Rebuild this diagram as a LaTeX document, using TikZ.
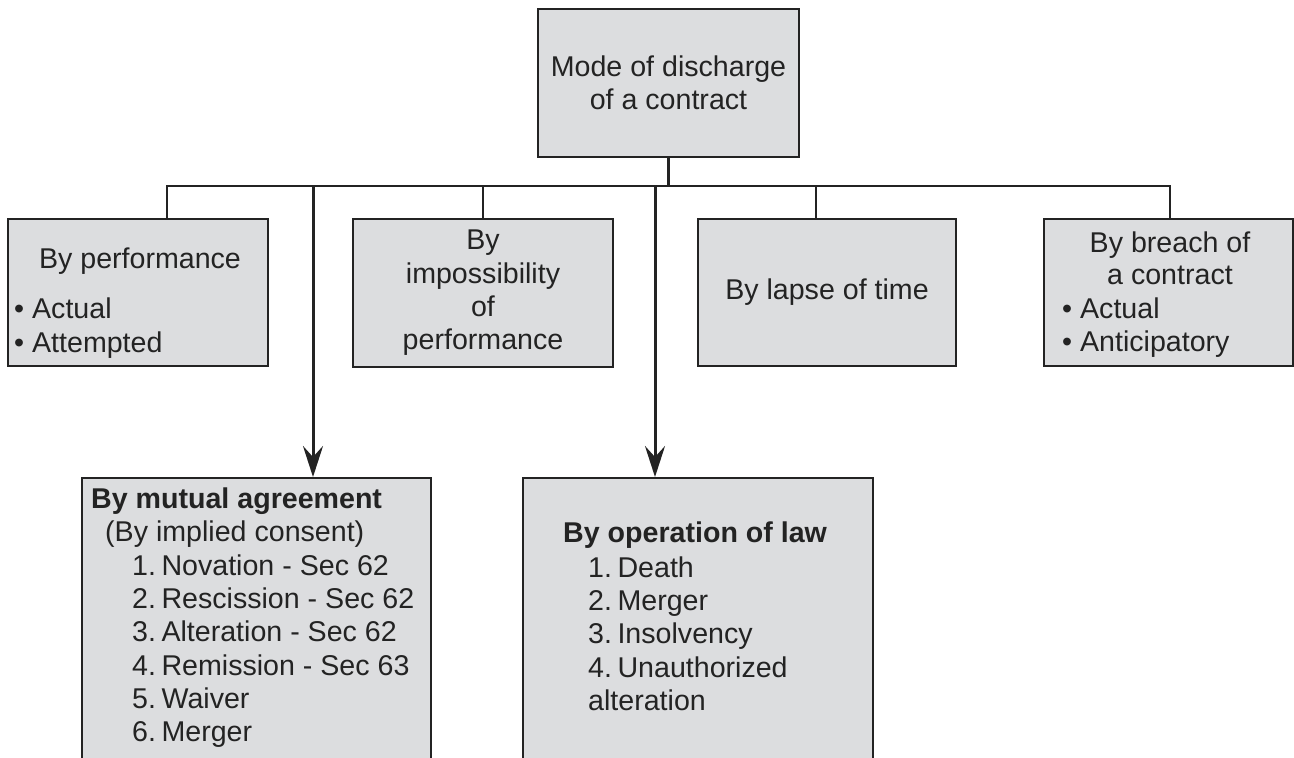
\documentclass[tikz,border=0pt]{standalone}
\usepackage{fontspec}
\setmainfont{Liberation Sans}
\usetikzlibrary{arrows.meta}
\definecolor{boxfill}{RGB}{220,221,223}
\definecolor{ink}{RGB}{35,35,35}
\newcommand{\numgap}{\hspace{5.5pt}}
\begin{document}
\begin{tikzpicture}[x=1pt,y=-1pt,
  box/.style={draw=ink, line width=2pt, fill=boxfill, inner sep=0pt, anchor=north west,
    text=ink, align=center, font=\fontsize{28.6}{33.3}\selectfont},
  txt/.style={anchor=base west, inner sep=0pt, text=ink, font=\fontsize{28.6}{33.3}\selectfont},
  ctxt/.style={txt, anchor=base},
  btxt/.style={txt, font=\fontsize{28.6}{33.3}\selectfont\bfseries},
  conn/.style={draw=ink, line width=2.5pt},
  arr/.style={draw=ink, line width=3pt, -{Stealth[length=31pt,width=20pt,inset=11pt]}}]
\useasboundingbox (0,0) rectangle (1294,758);
\clip (0,0) rectangle (1294,758);

% boxes
\node[box, minimum width=261pt, minimum height=148pt] (top) at (537,8) {Mode of discharge\\of a contract};
\node[box, minimum width=260pt, minimum height=147pt] (perf) at (7,218) {};
\node[box, minimum width=260pt, minimum height=148pt] (imp) at (352,218) {By\\impossibility\\of\\performance};
\node[box, minimum width=258pt, minimum height=147pt] (lapse) at (697,218) {By lapse of time};
\node[box, minimum width=249pt, minimum height=147pt] (breach) at (1043,218) {};
\node[box, minimum width=349pt, minimum height=320pt] (mut) at (81,477) {};
\node[box, minimum width=350pt, minimum height=320pt] (law) at (522,477) {};

% texts of By performance
\node[ctxt] (perfT) at (140,268) {By performance};
\node[txt] (perf1) at (14,318) {\textbullet\ Actual};
\node[txt] (perf2) at (14,352) {\textbullet\ Attempted};

% texts of By breach
\node[ctxt] (brT1) at (1170,252) {By breach of};
\node[ctxt] (brT2) at (1170,284) {a contract};
\node[txt] (br1) at (1062,318) {\textbullet\ Actual};
\node[txt] (br2) at (1062,351) {\textbullet\ Anticipatory};

% texts of By mutual agreement
\node[btxt] (mutT) at (91,508) {By mutual agreement};
\node[txt] (mutS) at (105,541) {(By implied consent)};
\node[txt] (mut1) at (132,575) {1.\numgap Novation - Sec 62};
\node[txt] (mut2) at (132,608) {2.\numgap Rescission - Sec 62};
\node[txt] (mut3) at (132,641) {3.\numgap Alteration - Sec 62};
\node[txt] (mut4) at (132,675) {4.\numgap Remission - Sec 63};
\node[txt] (mut5) at (132,708) {5.\numgap Waiver};
\node[txt] (mut6) at (132,741) {6.\numgap Merger};

% texts of By operation of law
\node[btxt] (lawT) at (563,542) {By operation of law};
\node[txt] (law1) at (588,577) {1.\numgap Death};
\node[txt] (law2) at (588,610) {2.\numgap Merger};
\node[txt] (law3) at (588,643) {3.\numgap Insolvency};
\node[txt] (law4) at (588,677) {4.\numgap Unauthorized};
\node[txt] (law5) at (588,710) {alteration};

% connectors
\coordinate (bL) at (167,186);
\coordinate (bR) at (1170,186);
\coordinate (j2) at (483,186);
\coordinate (j3) at (816,186);
\coordinate (a1) at (313,186);
\coordinate (a2) at (655,186);
\draw[conn] (bL |- perf.north) -- (bL) -- (bR) -- (bR |- breach.north);
\draw[conn] (top.south) -- (top.south |- bL);
\draw[conn] (j2) -- (j2 |- imp.north);
\draw[conn] (j3) -- (j3 |- lapse.north);
\draw[arr] (a1) -- (a1 |- mut.north);
\draw[arr] (a2) -- (a2 |- law.north);
\end{tikzpicture}
\end{document}
